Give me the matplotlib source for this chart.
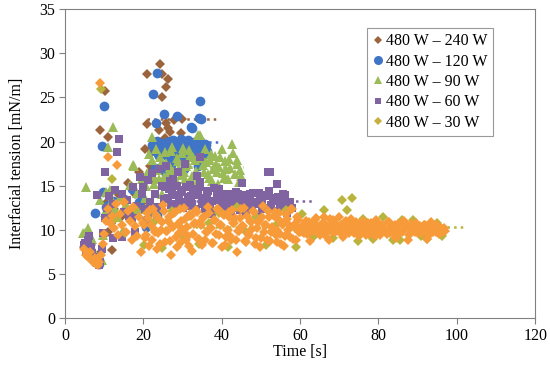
import matplotlib.pyplot as plt
from matplotlib.lines import Line2D

plt.rcParams['font.family'] = ['Liberation Serif', 'DejaVu Serif']

# (time [s], interfacial tension [mN/m])
w240 = [(5.0, 8.0), (5.6, 8.6), (6.1, 7.7), (6.7, 8.3), (7.2, 7.0), (7.8, 6.6), (8.4, 6.2),
        (9.0, 7.4), (9.0, 21.3), (10.2, 25.7), (11.1, 20.5), (10.5, 13.0), (11.0, 9.8),
        (12.1, 7.7), (12.6, 12.4), (13.5, 14.0), (14.2, 11.5), (15.0, 13.2), (16.2, 15.3),
        (17.0, 12.0), (18.0, 14.1), (19.0, 16.5), (20.4, 19.2), (20.9, 27.7), (20.9, 22.0),
        (21.6, 17.2), (22.2, 18.8), (22.8, 15.6), (23.3, 19.8), (24.0, 21.3), (24.3, 28.8),
        (24.7, 25.1), (24.7, 27.7), (25.5, 20.4), (25.9, 26.2), (25.9, 22.1), (26.4, 21.5),
        (26.4, 27.1), (26.8, 21.1), (27.2, 18.5), (27.8, 22.4), (28.3, 20.0), (28.9, 19.2),
        (29.5, 21.0), (30.0, 22.6), (23.6, 16.8), (26.0, 17.5), (19.6, 13.0)]

w120 = [(5.2, 8.4), (5.7, 7.9), (6.2, 8.9), (6.8, 7.2), (7.3, 6.7), (7.7, 11.9), (8.3, 6.3),
        (8.8, 6.1), (9.4, 19.5), (9.8, 14.3), (10.0, 24.0), (10.5, 12.6), (11.1, 12.8),
        (11.6, 11.7), (12.4, 13.3), (15.0, 13.5), (16.0, 12.2), (17.0, 14.6), (18.0, 11.9),
        (19.0, 13.1), (20.0, 15.4), (20.8, 11.1), (20.8, 10.3), (21.4, 12.0), (22.0, 16.3),
        (22.5, 25.4), (23.2, 22.1), (23.4, 27.8), (23.4, 11.7), (23.8, 18.6), (24.3, 19.4),
        (24.8, 17.2), (25.1, 18.8), (25.3, 23.1), (25.8, 19.8), (26.3, 18.3), (26.8, 20.1),
        (27.3, 19.0), (27.8, 18.5), (28.3, 19.6), (28.7, 22.9), (29.2, 18.9), (29.7, 20.3),
        (30.2, 19.2), (30.7, 18.4), (31.2, 19.9), (31.7, 18.7), (32.3, 21.7), (32.5, 21.5),
        (32.8, 19.4), (33.3, 18.6), (33.8, 19.8), (34.3, 22.7), (34.6, 24.6), (34.8, 22.5),
        (35.1, 19.1), (35.6, 18.5), (36.0, 19.6), (34.0, 17.2), (30.5, 16.9),
        (22.3, 19.6), (22.9, 18.9), (23.6, 20.1), (24.1, 18.4), (24.6, 19.8), (25.6, 18.6),
        (26.0, 19.9), (26.5, 19.2), (27.0, 18.4), (27.5, 20.2), (28.0, 19.4), (28.5, 18.2),
        (29.0, 19.9), (29.5, 18.8), (30.0, 20.0), (30.4, 18.6), (31.0, 19.5), (31.5, 20.2),
        (32.0, 18.9), (33.0, 19.9), (33.5, 18.3), (34.0, 19.3), (34.5, 20.1), (35.3, 18.8),
        (35.8, 19.7), (36.3, 18.9), (23.0, 17.0), (25.5, 16.5), (27.2, 17.3)]

w90 = [(4.7, 9.6), (5.1, 9.6), (5.5, 14.9), (5.5, 8.8), (6.0, 10.2), (6.4, 8.1), (6.8, 9.0),
       (7.3, 7.6), (7.8, 7.0), (8.3, 6.6), (8.9, 6.9), (8.9, 13.4), (9.4, 6.6), (9.8, 9.4),
       (10.3, 12.0), (10.6, 14.3), (11.1, 19.4), (11.5, 14.5), (12.0, 13.4), (12.3, 21.7),
       (12.8, 12.4), (13.6, 11.5), (14.2, 13.8), (14.9, 10.0), (15.6, 12.9), (16.6, 15.1),
       (17.4, 17.3), (17.6, 17.2), (18.3, 14.2), (19.0, 12.4), (19.7, 15.8), (20.4, 13.6),
       (21.0, 16.4), (22.1, 17.9), (22.1, 20.5), (22.8, 15.2), (23.5, 16.8), (24.2, 18.3),
       (24.7, 14.1), (25.3, 16.0), (25.9, 17.6), (26.5, 15.5), (27.1, 18.9), (27.7, 16.7),
       (28.3, 15.3), (28.9, 17.8), (29.5, 16.2), (30.1, 19.3), (30.7, 15.8), (31.3, 17.4),
       (31.9, 18.4), (32.5, 16.1), (33.1, 17.9), (33.7, 15.4), (34.0, 20.7), (34.5, 20.7),
       (34.9, 18.1), (35.5, 16.6), (36.1, 17.7), (36.7, 15.9), (37.3, 18.6), (37.9, 16.9),
       (38.5, 17.5), (39.1, 15.2), (39.7, 18.2), (40.3, 16.4), (40.9, 17.8), (41.5, 15.7),
       (42.1, 17.0), (42.7, 19.7), (43.0, 18.7), (43.5, 16.3), (44.0, 17.4), (44.6, 16.8),
       (20.8, 15.0), (21.5, 18.6), (22.5, 16.1), (23.2, 19.1), (23.9, 15.7), (24.5, 17.4),
       (25.6, 18.8), (26.2, 16.4), (26.8, 17.1), (27.4, 19.4), (28.0, 15.9), (28.6, 18.1),
       (29.2, 16.9), (29.8, 18.7), (30.4, 16.5), (31.0, 17.2), (31.6, 19.0), (32.2, 15.6),
       (32.8, 18.3), (33.4, 16.7), (35.2, 17.3), (35.8, 19.2), (36.4, 16.3), (37.0, 17.9),
       (37.6, 15.5), (38.2, 18.4), (38.8, 16.6), (39.4, 17.1), (40.0, 19.1), (40.6, 15.9),
       (41.2, 16.9), (41.8, 18.0), (43.8, 17.9), (44.3, 15.4), (45.0, 16.1)]

w60 = [(5.0, 8.3), (5.1, 8.5), (5.4, 7.6), (5.8, 8.9), (6.2, 9.3), (6.6, 8.0), (7.0, 7.4),
       (7.4, 6.9), (7.8, 6.5), (8.1, 13.9), (8.2, 6.2), (8.6, 6.0), (9.0, 6.4), (9.4, 7.8),
       (9.8, 9.6), (10.2, 16.6), (10.2, 11.3), (10.8, 12.5), (11.3, 13.8), (11.8, 11.0),
       (11.9, 11.1), (12.3, 9.1), (12.3, 12.9), (12.8, 14.5), (13.2, 18.8), (13.9, 20.3),
       (14.5, 14.1), (14.5, 9.2), (15.2, 12.0), (15.8, 13.4), (16.4, 11.6), (17.0, 11.3),
       (17.4, 14.8), (17.9, 9.8), (18.4, 12.7), (19.1, 16.0), (19.6, 14.1), (20.0, 14.9),
       (20.5, 12.3), (21.1, 15.6), (21.7, 13.2), (22.3, 16.4), (22.9, 14.0), (23.5, 12.6),
       (24.1, 16.9), (24.7, 15.0), (25.3, 13.5), (25.9, 17.2), (26.5, 14.6), (27.1, 12.8),
       (27.7, 15.8), (28.3, 13.9), (28.9, 16.6), (29.5, 14.3), (30.1, 12.5), (30.7, 17.4),
       (31.3, 13.7), (31.9, 15.1), (32.5, 12.9), (33.1, 14.4), (33.7, 16.1), (34.5, 18.3),
       (34.5, 15.4), (35.1, 13.2), (35.7, 12.4), (36.3, 14.2), (36.9, 13.0), (37.5, 11.8),
       (38.1, 14.7), (38.7, 13.4), (39.3, 12.2), (39.9, 13.9), (40.5, 12.7), (41.1, 14.1),
       (41.7, 13.1), (42.3, 11.6), (42.9, 13.6), (43.5, 12.5), (44.1, 14.0), (44.7, 12.9),
       (45.1, 15.3), (45.6, 13.3), (46.2, 11.9), (46.8, 13.8), (47.4, 12.6), (48.0, 14.2),
       (48.6, 13.0), (49.2, 11.7), (49.8, 13.5), (50.4, 12.4), (51.0, 13.9), (51.9, 16.6),
       (52.3, 16.5), (52.6, 12.8), (53.2, 13.6), (54.0, 15.2), (54.4, 12.1), (55.0, 13.4),
       (55.6, 12.7), (56.2, 13.9), (56.8, 11.9), (57.4, 13.1), (58.0, 12.5),
       (25.6, 14.8), (26.2, 13.6), (26.8, 15.5), (27.4, 14.1), (28.0, 12.9), (28.6, 15.0),
       (29.2, 13.4), (29.8, 14.5), (30.4, 13.1), (31.0, 14.9), (31.6, 12.7), (32.2, 13.8),
       (32.8, 14.6), (33.4, 12.4), (34.0, 13.9), (34.6, 14.8), (35.2, 12.9), (35.8, 13.6),
       (36.4, 14.4), (37.0, 12.6), (37.6, 13.3), (38.2, 12.1), (38.8, 13.8), (39.4, 14.6),
       (40.0, 12.8), (40.6, 13.5), (41.2, 12.3), (41.8, 14.0), (42.4, 13.2), (43.0, 12.7),
       (43.6, 14.3), (44.2, 13.4), (44.8, 12.2), (45.4, 13.9), (46.0, 12.8), (46.6, 13.5),
       (47.2, 14.1), (47.8, 12.4), (48.4, 13.2), (49.0, 12.9), (49.6, 14.2), (50.2, 13.0),
       (50.8, 12.5), (51.4, 13.8), (52.0, 14.4), (52.6, 12.6), (53.2, 13.3), (53.8, 12.0),
       (54.4, 13.7), (55.0, 12.9), (55.6, 14.1), (56.2, 12.6), (56.8, 13.2), (57.4, 12.7)]

w30_orange = [(5.0, 7.8), (5.5, 7.2), (6.0, 6.9), (6.4, 7.5), (6.8, 6.6), (7.2, 6.3), (7.6, 6.8),
              (8.0, 6.1), (8.4, 6.0), (8.8, 6.4), (8.9, 26.6), (9.2, 7.2), (9.6, 8.4), (10.0, 9.5),
              (10.5, 11.0), (11.0, 12.4), (11.1, 18.3), (11.5, 10.8), (12.0, 11.6), (12.6, 10.2),
              (13.0, 12.9), (13.2, 17.3), (13.5, 9.4), (14.0, 11.8), (14.5, 10.6), (15.0, 13.2),
              (15.5, 9.8), (16.0, 12.1), (16.5, 11.0), (17.0, 8.9), (17.5, 12.6), (18.0, 10.4),
              (18.5, 9.3), (19.0, 11.5), (19.5, 7.5), (20.0, 10.8), (20.5, 9.1), (21.0, 11.9),
              (21.5, 8.2), (22.0, 10.5), (22.5, 12.4), (23.0, 9.7), (23.5, 7.8), (24.0, 11.2),
              (24.5, 10.0), (25.0, 12.8), (25.5, 8.6), (26.0, 9.9), (26.5, 11.5), (27.0, 7.1),
              (27.5, 10.3), (28.0, 12.0), (28.5, 8.0), (29.0, 9.6), (29.5, 11.0), (30.0, 10.1),
              (30.5, 12.5), (31.0, 8.8), (31.5, 9.3), (32.0, 11.8), (32.5, 7.6), (33.0, 10.7),
              (33.5, 12.2), (34.0, 9.0), (34.5, 10.9), (35.0, 8.3), (35.5, 11.4), (36.0, 9.8),
              (36.5, 12.6), (37.0, 10.2), (37.5, 8.5), (38.0, 11.1), (38.5, 9.5), (39.0, 12.3),
              (39.5, 10.6), (40.0, 8.1), (40.5, 11.7), (41.0, 9.2), (41.5, 10.0), (42.0, 12.0),
              (42.5, 8.9), (43.0, 10.8), (43.5, 11.3), (44.0, 7.5), (44.5, 9.9), (45.0, 12.4),
              (45.5, 10.4), (46.0, 8.7), (46.5, 11.6), (47.0, 9.4), (47.5, 10.9), (48.0, 12.1),
              (48.5, 8.4), (49.0, 10.2), (49.5, 11.0), (50.0, 9.1), (50.5, 12.7), (51.0, 10.5),
              (51.5, 8.8), (52.0, 11.4), (52.5, 9.7), (53.0, 10.1), (53.5, 12.0), (54.0, 8.6),
              (54.5, 11.2), (55.0, 9.5), (55.5, 10.7), (56.0, 8.2), (56.5, 11.8), (57.0, 10.0),
              (57.5, 9.2), (58.0, 12.3), (58.5, 10.6), (59.0, 8.9), (59.5, 11.1), (60.0, 9.8),
              (60.5, 10.4), (61.0, 9.6), (61.5, 11.0), (62.0, 10.1), (62.5, 8.7), (63.0, 10.8),
              (63.5, 9.9), (64.0, 11.3), (64.5, 10.2), (65.0, 9.4), (65.5, 10.7), (66.0, 11.5),
              (66.5, 9.8), (67.0, 10.3), (67.5, 8.9), (68.0, 10.6), (68.5, 11.1), (69.0, 9.7),
              (69.5, 10.0), (70.0, 11.4), (70.5, 10.5), (71.0, 9.2), (71.5, 10.9), (72.0, 10.1),
              (72.5, 9.6), (73.0, 11.2), (73.5, 10.4), (74.0, 9.9), (74.5, 10.7), (75.0, 9.3),
              (75.5, 10.2), (76.0, 11.0), (76.5, 9.8), (77.0, 10.5), (77.5, 9.5), (78.0, 10.8),
              (78.5, 10.0), (79.0, 9.7), (79.5, 11.1), (80.0, 10.3), (80.5, 9.4), (81.0, 10.6),
              (81.5, 10.1), (82.0, 9.9), (82.5, 10.9), (83.0, 9.6), (83.5, 10.4), (84.0, 10.0),
              (84.5, 9.1), (85.0, 10.7), (85.5, 10.2), (86.0, 9.8), (86.5, 11.0), (87.0, 10.3),
              (87.5, 8.8), (88.0, 10.5), (88.5, 9.9), (89.0, 10.1), (89.5, 10.8), (90.0, 9.6),
              (90.5, 10.4), (91.0, 10.2), (91.5, 9.7), (92.0, 10.6), (92.5, 9.0), (93.0, 10.3),
              (93.5, 10.9), (94.0, 9.8), (94.5, 10.1), (95.0, 10.5), (95.5, 9.5), (96.0, 10.2),
              (96.5, 10.0), (97.0, 9.9)]

w30_orange_b = [(20.25, 10.6), (20.75, 9.4), (21.25, 11.3), (21.75, 12.2), (22.25, 8.9), (22.75, 10.1),
                (23.25, 11.7), (23.75, 9.6), (24.25, 8.4), (24.75, 10.9), (25.25, 12.1), (25.75, 9.9),
                (26.25, 11.0), (26.75, 8.7), (27.25, 10.4), (27.75, 11.9), (28.25, 9.2), (28.75, 10.7),
                (29.25, 12.4), (29.75, 8.6), (30.25, 9.8), (30.75, 11.2), (31.25, 10.3), (31.75, 8.2),
                (32.25, 11.6), (32.75, 9.5), (33.25, 10.8), (33.75, 12.0), (34.25, 9.0), (34.75, 10.5),
                (35.25, 11.4), (35.75, 8.8), (36.25, 9.7), (36.75, 11.9), (37.25, 10.2), (37.75, 8.5),
                (38.25, 11.1), (38.75, 12.3), (39.25, 9.4), (39.75, 10.6), (40.25, 11.8), (40.75, 8.3),
                (41.25, 10.0), (41.75, 11.5), (42.25, 9.3), (42.75, 12.2), (43.25, 10.8), (43.75, 8.9),
                (44.25, 9.9), (44.75, 11.3), (45.25, 10.4), (45.75, 12.5), (46.25, 8.6), (46.75, 9.6),
                (47.25, 11.0), (47.75, 10.1), (48.25, 12.0), (48.75, 9.1), (49.25, 10.9), (49.75, 8.0),
                (50.25, 11.4), (50.75, 9.8), (51.25, 10.5), (51.75, 12.1), (52.25, 8.7), (52.75, 10.3),
                (53.25, 11.6), (53.75, 9.4), (54.25, 10.0), (54.75, 11.9), (55.25, 8.4), (55.75, 10.7),
                (56.25, 9.3), (56.75, 11.2), (57.25, 10.6), (57.75, 12.4), (58.25, 9.0), (58.75, 10.2),
                (59.25, 11.5), (59.75, 9.7), (60.25, 10.1), (60.75, 9.8), (61.25, 10.6), (61.75, 9.5),
                (62.25, 10.9), (62.75, 10.3), (63.25, 9.9), (63.75, 11.1), (64.25, 10.4), (64.75, 9.6),
                (65.25, 10.2), (65.75, 10.8), (66.25, 9.4), (66.75, 10.5), (67.25, 10.0), (67.75, 11.2),
                (68.25, 9.7), (68.75, 10.3), (69.25, 10.7), (69.75, 9.9), (70.25, 10.1), (70.75, 9.5),
                (71.25, 10.6), (71.75, 11.0), (72.25, 9.8), (72.75, 10.4), (73.25, 10.2), (73.75, 9.6),
                (74.25, 10.9), (74.75, 10.0), (75.25, 9.7), (75.75, 10.5), (76.25, 10.3), (76.75, 9.4),
                (77.25, 10.8), (77.75, 10.1), (78.25, 9.9), (78.75, 10.6), (79.25, 9.3), (79.75, 10.4),
                (80.25, 10.7), (80.75, 9.8), (81.25, 10.2), (81.75, 10.0), (82.25, 9.5), (82.75, 10.9),
                (83.25, 10.3), (83.75, 9.7), (84.25, 10.5), (84.75, 10.1), (85.25, 9.6), (85.75, 10.8),
                (86.25, 9.9), (86.75, 10.2), (87.25, 10.4), (87.75, 9.4), (88.25, 10.7), (88.75, 10.0),
                (89.25, 9.8), (89.75, 10.5), (90.25, 10.3), (90.75, 9.6), (91.25, 10.1), (91.75, 10.6),
                (92.25, 9.9), (92.75, 10.2), (93.25, 9.5), (93.75, 10.4), (94.25, 10.0), (94.75, 9.8),
                (95.25, 10.3), (95.75, 10.1), (96.25, 9.7), (96.75, 10.2)]

w30_olive = [(9.3, 25.9), (12.1, 15.8), (12.9, 11.2), (15.3, 9.6), (17.8, 12.3), (20.2, 8.3),
             (22.7, 10.9), (24.9, 7.9), (27.3, 12.1), (29.8, 9.4), (31.6, 11.6), (34.2, 8.4),
             (36.8, 10.8), (39.4, 11.9), (41.7, 8.0), (43.9, 12.6), (46.3, 9.7), (48.8, 11.5),
             (51.2, 8.3), (53.9, 10.6), (56.3, 12.2), (59.1, 8.1), (60.6, 11.8), (63.2, 9.2),
             (66.0, 12.2), (68.4, 9.1), (70.6, 13.4), (72.1, 12.2), (73.2, 13.6), (74.8, 8.7),
             (76.0, 11.2), (78.7, 9.0), (81.2, 11.4), (83.6, 8.9), (85.5, 8.8), (86.0, 11.1),
             (88.9, 11.1), (90.8, 9.3), (92.3, 9.0), (94.9, 10.8), (96.2, 9.3)]

# dotted equilibrium levels: (start, end, level)
lvl240 = (21.0, 38.5, 22.5)
lvl120 = (21.5, 39.0, 20.0)
lvl90 = (25.0, 45.5, 17.1)
lvl60 = (25.0, 63.5, 13.3)
lvl30 = (30.0, 102.0, 10.3)

labels = ['480 W \u2013 240 W', '480 W \u2013 120 W', '480 W \u2013 90 W',
          '480 W \u2013 60 W', '480 W \u2013 30 W']

c240 = '#9B643C'
c120 = '#3F74C6'
c90 = '#9BBB59'
c60 = '#8064A2'
c30 = '#F79A3A'
c30b = '#B8B43C'
c30leg = '#C8AE3A'

fig = plt.figure(figsize=(5.5, 3.66), dpi=100)
ax = fig.add_axes([0.118, 0.131, 0.855, 0.844])


def scatter(points, marker, color, size):
    xs = [p[0] for p in points]
    ys = [p[1] for p in points]
    ax.plot(xs, ys, linestyle='none', marker=marker, color=color, markersize=size,
            markeredgewidth=0, zorder=3)


def level(lv, color):
    ax.plot([lv[0], lv[1]], [lv[2], lv[2]], linestyle=':', color=color, linewidth=1.8, zorder=2)


level(lvl240, c240)
level(lvl120, c120)
level(lvl90, c90)
level(lvl60, c60)
level(lvl30, c30b)

scatter(w240, 'D', c240, 5.5)
scatter(w120, 'o', c120, 7.0)
scatter(w90, '^', c90, 7.0)
scatter(w60, 's', c60, 6.0)
scatter(w30_olive, 'D', c30b, 5.5)
scatter(w30_orange + w30_orange_b, 'D', c30, 5.5)

ax.set_xlim(0, 120)
ax.set_ylim(0, 35)
ax.set_xticks(range(0, 121, 20))
ax.set_yticks(range(0, 36, 5))
ax.tick_params(labelsize=11.5, direction='out', length=4, color='#808080', pad=3)
for s in ax.spines.values():
    s.set_color('#808080')
ax.set_xlabel('Time [s]', fontsize=11.5, labelpad=0)
ax.set_ylabel('Interfacial tension [mN/m]', fontsize=11.5, labelpad=10)

handles = [Line2D([], [], linestyle='none', marker='D', color=c240, markersize=4.5, markeredgewidth=0),
           Line2D([], [], linestyle='none', marker='o', color=c120, markersize=6.5, markeredgewidth=0),
           Line2D([], [], linestyle='none', marker='^', color=c90, markersize=6, markeredgewidth=0),
           Line2D([], [], linestyle='none', marker='s', color=c60, markersize=5, markeredgewidth=0),
           Line2D([], [], linestyle='none', marker='D', color=c30leg, markersize=4.5, markeredgewidth=0)]
leg = ax.legend(handles, labels, loc='upper left', bbox_to_anchor=(0.643, 0.94), fontsize=11.5,
                frameon=True, fancybox=False, edgecolor='#808080', handlelength=0.6,
                handletextpad=0.2, borderpad=0.35, labelspacing=0.27, borderaxespad=0)
leg.get_frame().set_linewidth(0.8)

fig.savefig('out.png', dpi=100)
